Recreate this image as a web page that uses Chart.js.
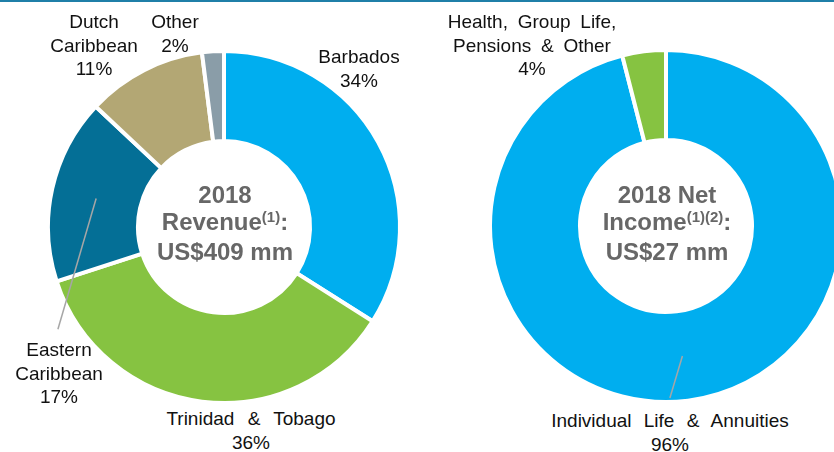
<!DOCTYPE html>
<html>
<head>
<meta charset="utf-8">
<script src="https://cdn.jsdelivr.net/npm/chart.js@4.4.0/dist/chart.umd.min.js"></script>
<style>
  html, body { margin: 0; padding: 0; background: #fff; }
  body { width: 834px; height: 452px; overflow: hidden; position: relative; font-family: "Liberation Sans", Arial, sans-serif; }
  #topline { position: absolute; left: 0; top: 0; width: 834px; height: 2px; background: #1f7fa8; }
  .wrap { position: absolute; width: 360px; height: 360px; }
  .lbl { position: absolute; transform: translateX(-50%); text-align: center; white-space: pre; font-size: 19px; line-height: 23.5px; color: #111; }
  .ctr { position: absolute; transform: translateX(-50%); text-align: center; white-space: pre; font-size: 24px; font-weight: bold; line-height: 27px; color: #676767; }
  .ctr sup { font-size: 15px; vertical-align: 0; position: relative; top: -8px; }
</style>
</head>
<body>
<div id="topline"></div>
<div class="wrap" id="w1" style="left:44px; top:47px;"><canvas id="c1" width="360" height="360"></canvas></div>
<div class="wrap" id="w2" style="left:486px; top:46px;"><canvas id="c2" width="360" height="360"></canvas></div>
<script>
// ---- data ----
const revenueCategories = ['Barbados', 'Trinidad & Tobago', 'Eastern\nCaribbean', 'Dutch\nCaribbean', 'Other'];
const revenueValues = [34, 36, 17, 11, 2];
const incomeCategories = ['Individual Life & Annuities', 'Health, Group Life,\nPensions & Other'];
const incomeValues = [96, 4];

// ---- styles / layout ----
const revenueColors = ['#00aeef', '#86c341', '#046f96', '#b3a774', '#8a9da8'];
const incomeColors = ['#00aeef', '#86c341'];
// [centerX, top, wordSpacing]
const revenueLabelPos = [[359, 45, 0], [251, 407, 8], [59, 338, 0], [94, 10, 0], [175, 10, 0]];
const incomeLabelPos = [[670, 409, 7], [532, 10, 4.5]];

function leaderPlugin(idx, endAngleDeg, endR) {
  return {
    id: 'leader' + idx,
    afterDatasetsDraw(chart) {
      const arc = chart.getDatasetMeta(0).data[idx];
      const p = arc.getProps(['x', 'y', 'startAngle', 'endAngle', 'innerRadius', 'outerRadius'], true);
      const mid = (p.startAngle + p.endAngle) / 2;
      const r = (p.innerRadius + p.outerRadius) / 2;
      const ea = (endAngleDeg - 90) * Math.PI / 180;
      const ctx = chart.ctx;
      ctx.save();
      ctx.strokeStyle = '#a6a6a6';
      ctx.lineWidth = 1.5;
      ctx.beginPath();
      ctx.moveTo(p.x + Math.cos(mid) * r, p.y + Math.sin(mid) * r);
      ctx.lineTo(p.x + Math.cos(ea) * endR, p.y + Math.sin(ea) * endR);
      ctx.stroke();
      ctx.restore();
    }
  };
}

function makeChart(id, labels, values, colors, plugin) {
  return new Chart(document.getElementById(id), {
    type: 'doughnut',
    data: {
      labels: labels,
      datasets: [{
        data: values,
        backgroundColor: colors,
        borderColor: '#ffffff',
        borderWidth: 4,
        radius: 176,
        cutout: 87
      }]
    },
    options: {
      responsive: false,
      animation: false,
      events: [],
      layout: { padding: 0 },
      plugins: { legend: { display: false }, tooltip: { enabled: false } }
    },
    plugins: [plugin]
  });
}

makeChart('c1', revenueCategories, revenueValues, revenueColors, leaderPlugin(2, 238.4, 195));
makeChart('c2', incomeCategories, incomeValues, incomeColors, leaderPlugin(0, 178.7, 172));

function addLabels(cats, vals, pos) {
  cats.forEach((c, i) => {
    const d = document.createElement('div');
    d.className = 'lbl';
    d.textContent = c + '\n' + vals[i] + '%';
    d.style.left = pos[i][0] + 'px';
    d.style.top = pos[i][1] + 'px';
    d.style.wordSpacing = pos[i][2] + 'px';
    document.body.appendChild(d);
  });
}
addLabels(revenueCategories, revenueValues, revenueLabelPos);
addLabels(incomeCategories, incomeValues, incomeLabelPos);

function addCenter(html, x, y) {
  const d = document.createElement('div');
  d.className = 'ctr';
  d.innerHTML = html;
  d.style.left = x + 'px';
  d.style.top = y + 'px';
  document.body.appendChild(d);
}
addCenter('2018\nRevenue<sup>(1)</sup>:\nUS$409 mm', 225, 181);
addCenter('2018 Net\nIncome<sup>(1)(2)</sup>:\nUS$27 mm', 667, 181);
</script>
</body>
</html>
